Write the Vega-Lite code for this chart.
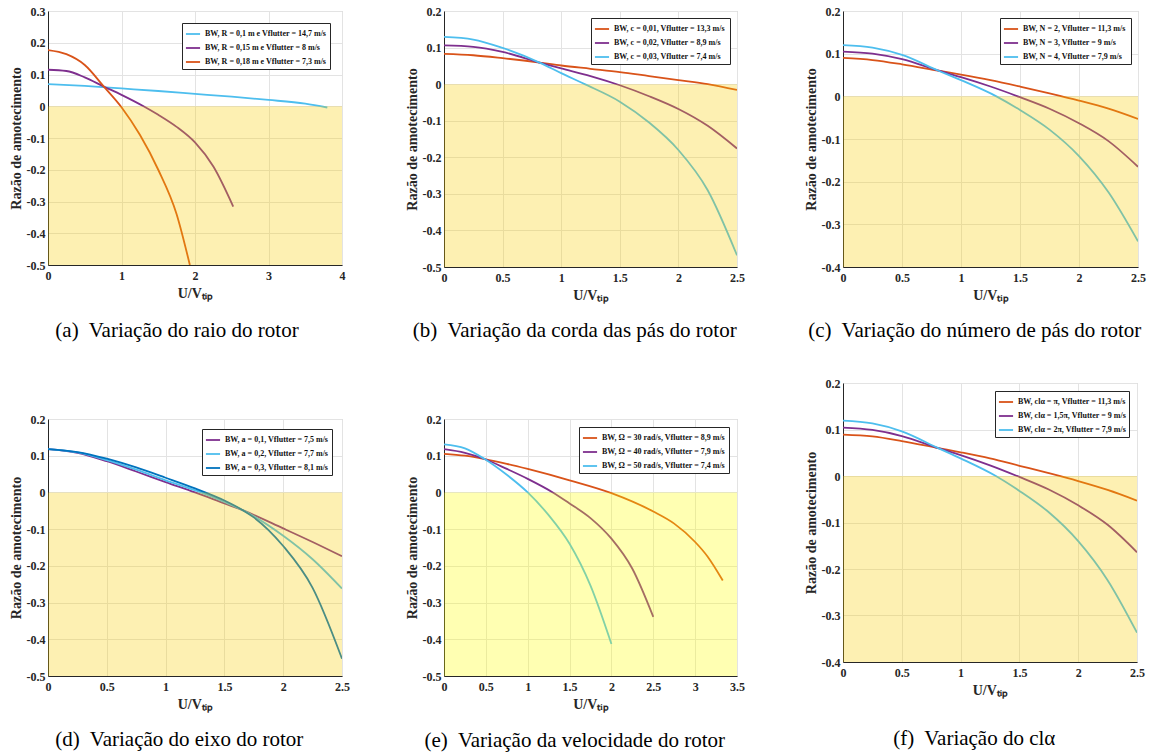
{
  "$schema": "https://vega.github.io/schema/vega-lite/v6.json",
  "background": "white",
  "padding": {"left": 8, "top": 4, "right": 4, "bottom": 4},
  "config": {
    "font": "Liberation Serif",
    "view": {"stroke": "#C8C8C8", "strokeWidth": 1},
    "axis": {"labelFont": "Liberation Serif", "labelFontWeight": "bold", "labelFontSize": 12, "labelColor": "#262626", "titleFont": "Liberation Serif", "titleFontWeight": "bold", "titleFontSize": 14, "titleColor": "#262626", "domainColor": "#262626", "gridColor": "#E3E3E3", "ticks": false, "labelPadding": 5, "titlePadding": 5, "labelFlush": false, "labelOverlap": false, "labelBound": false, "labelExpr": "'' + datum.value"},
    "axisY": {"titlePadding": 3, "labelPadding": 3},
    "legend": {"orient": "top-right", "offset": 7, "labelFont": "Liberation Serif", "labelFontWeight": "bold", "labelFontSize": 8, "labelColor": "#111111", "symbolType": "stroke", "symbolStrokeWidth": 2, "symbolSize": 200, "strokeColor": "#262626", "fillColor": "white", "padding": 3, "rowPadding": 2, "labelLimit": 0, "cornerRadius": 0},
    "title": {"font": "Liberation Serif", "fontSize": 21, "fontWeight": "normal", "color": "black", "orient": "bottom", "frame": "bounds", "offset": 18},
    "line": {"strokeWidth": 1.8, "interpolate": "monotone"}
  },
  "datasets": {
    "a": [
      {"s": "BW, R = 0,1 m e Vflutter = 14,7 m/s", "x": 0, "y": 0.070},
      {"s": "BW, R = 0,1 m e Vflutter = 14,7 m/s", "x": 0.5, "y": 0.064},
      {"s": "BW, R = 0,1 m e Vflutter = 14,7 m/s", "x": 1, "y": 0.056},
      {"s": "BW, R = 0,1 m e Vflutter = 14,7 m/s", "x": 1.5, "y": 0.048},
      {"s": "BW, R = 0,1 m e Vflutter = 14,7 m/s", "x": 2, "y": 0.039},
      {"s": "BW, R = 0,1 m e Vflutter = 14,7 m/s", "x": 2.5, "y": 0.030},
      {"s": "BW, R = 0,1 m e Vflutter = 14,7 m/s", "x": 3, "y": 0.020},
      {"s": "BW, R = 0,1 m e Vflutter = 14,7 m/s", "x": 3.5, "y": 0.008},
      {"s": "BW, R = 0,1 m e Vflutter = 14,7 m/s", "x": 3.8, "y": -0.004},
      {"s": "BW, R = 0,15 m e Vflutter = 8 m/s", "x": 0, "y": 0.115},
      {"s": "BW, R = 0,15 m e Vflutter = 8 m/s", "x": 0.25, "y": 0.111},
      {"s": "BW, R = 0,15 m e Vflutter = 8 m/s", "x": 0.5, "y": 0.091},
      {"s": "BW, R = 0,15 m e Vflutter = 8 m/s", "x": 0.76, "y": 0.062},
      {"s": "BW, R = 0,15 m e Vflutter = 8 m/s", "x": 1, "y": 0.036},
      {"s": "BW, R = 0,15 m e Vflutter = 8 m/s", "x": 1.3, "y": 0.0},
      {"s": "BW, R = 0,15 m e Vflutter = 8 m/s", "x": 1.5, "y": -0.027},
      {"s": "BW, R = 0,15 m e Vflutter = 8 m/s", "x": 1.75, "y": -0.065},
      {"s": "BW, R = 0,15 m e Vflutter = 8 m/s", "x": 2, "y": -0.114},
      {"s": "BW, R = 0,15 m e Vflutter = 8 m/s", "x": 2.25, "y": -0.190},
      {"s": "BW, R = 0,15 m e Vflutter = 8 m/s", "x": 2.52, "y": -0.316},
      {"s": "BW, R = 0,18 m e Vflutter = 7,3 m/s", "x": 0, "y": 0.177},
      {"s": "BW, R = 0,18 m e Vflutter = 7,3 m/s", "x": 0.25, "y": 0.164},
      {"s": "BW, R = 0,18 m e Vflutter = 7,3 m/s", "x": 0.5, "y": 0.130},
      {"s": "BW, R = 0,18 m e Vflutter = 7,3 m/s", "x": 0.76, "y": 0.062},
      {"s": "BW, R = 0,18 m e Vflutter = 7,3 m/s", "x": 1, "y": -0.003},
      {"s": "BW, R = 0,18 m e Vflutter = 7,3 m/s", "x": 1.25, "y": -0.090},
      {"s": "BW, R = 0,18 m e Vflutter = 7,3 m/s", "x": 1.5, "y": -0.200},
      {"s": "BW, R = 0,18 m e Vflutter = 7,3 m/s", "x": 1.75, "y": -0.340},
      {"s": "BW, R = 0,18 m e Vflutter = 7,3 m/s", "x": 1.93, "y": -0.500}
    ],
    "b": [
      {"s": "BW,  c = 0,01, Vflutter = 13,3 m/s", "x": 0, "y": 0.083},
      {"s": "BW,  c = 0,01, Vflutter = 13,3 m/s", "x": 0.25, "y": 0.079},
      {"s": "BW,  c = 0,01, Vflutter = 13,3 m/s", "x": 0.5, "y": 0.071},
      {"s": "BW,  c = 0,01, Vflutter = 13,3 m/s", "x": 0.815, "y": 0.059},
      {"s": "BW,  c = 0,01, Vflutter = 13,3 m/s", "x": 1, "y": 0.051},
      {"s": "BW,  c = 0,01, Vflutter = 13,3 m/s", "x": 1.25, "y": 0.042},
      {"s": "BW,  c = 0,01, Vflutter = 13,3 m/s", "x": 1.5, "y": 0.033},
      {"s": "BW,  c = 0,01, Vflutter = 13,3 m/s", "x": 1.75, "y": 0.022},
      {"s": "BW,  c = 0,01, Vflutter = 13,3 m/s", "x": 2, "y": 0.011},
      {"s": "BW,  c = 0,01, Vflutter = 13,3 m/s", "x": 2.25, "y": 0.0},
      {"s": "BW,  c = 0,01, Vflutter = 13,3 m/s", "x": 2.5, "y": -0.016},
      {"s": "BW,  c = 0,02, Vflutter = 8,9 m/s", "x": 0, "y": 0.106},
      {"s": "BW,  c = 0,02, Vflutter = 8,9 m/s", "x": 0.25, "y": 0.102},
      {"s": "BW,  c = 0,02, Vflutter = 8,9 m/s", "x": 0.5, "y": 0.088},
      {"s": "BW,  c = 0,02, Vflutter = 8,9 m/s", "x": 0.815, "y": 0.059},
      {"s": "BW,  c = 0,02, Vflutter = 8,9 m/s", "x": 1, "y": 0.043},
      {"s": "BW,  c = 0,02, Vflutter = 8,9 m/s", "x": 1.25, "y": 0.022},
      {"s": "BW,  c = 0,02, Vflutter = 8,9 m/s", "x": 1.5, "y": -0.003},
      {"s": "BW,  c = 0,02, Vflutter = 8,9 m/s", "x": 1.75, "y": -0.033},
      {"s": "BW,  c = 0,02, Vflutter = 8,9 m/s", "x": 2, "y": -0.068},
      {"s": "BW,  c = 0,02, Vflutter = 8,9 m/s", "x": 2.25, "y": -0.114},
      {"s": "BW,  c = 0,02, Vflutter = 8,9 m/s", "x": 2.5, "y": -0.176},
      {"s": "BW,  c = 0,03, Vflutter = 7,4 m/s", "x": 0, "y": 0.129},
      {"s": "BW,  c = 0,03, Vflutter = 7,4 m/s", "x": 0.25, "y": 0.122},
      {"s": "BW,  c = 0,03, Vflutter = 7,4 m/s", "x": 0.5, "y": 0.099},
      {"s": "BW,  c = 0,03, Vflutter = 7,4 m/s", "x": 0.815, "y": 0.059},
      {"s": "BW,  c = 0,03, Vflutter = 7,4 m/s", "x": 1, "y": 0.030},
      {"s": "BW,  c = 0,03, Vflutter = 7,4 m/s", "x": 1.2, "y": 0.0},
      {"s": "BW,  c = 0,03, Vflutter = 7,4 m/s", "x": 1.5, "y": -0.048},
      {"s": "BW,  c = 0,03, Vflutter = 7,4 m/s", "x": 1.75, "y": -0.105},
      {"s": "BW,  c = 0,03, Vflutter = 7,4 m/s", "x": 2, "y": -0.180},
      {"s": "BW,  c = 0,03, Vflutter = 7,4 m/s", "x": 2.25, "y": -0.290},
      {"s": "BW,  c = 0,03, Vflutter = 7,4 m/s", "x": 2.5, "y": -0.468}
    ],
    "c": [
      {"s": "BW,  N = 2, Vflutter = 11,3 m/s", "x": 0, "y": 0.090},
      {"s": "BW,  N = 2, Vflutter = 11,3 m/s", "x": 0.25, "y": 0.085},
      {"s": "BW,  N = 2, Vflutter = 11,3 m/s", "x": 0.5, "y": 0.075},
      {"s": "BW,  N = 2, Vflutter = 11,3 m/s", "x": 0.81, "y": 0.060},
      {"s": "BW,  N = 2, Vflutter = 11,3 m/s", "x": 1, "y": 0.051},
      {"s": "BW,  N = 2, Vflutter = 11,3 m/s", "x": 1.25, "y": 0.038},
      {"s": "BW,  N = 2, Vflutter = 11,3 m/s", "x": 1.5, "y": 0.023},
      {"s": "BW,  N = 2, Vflutter = 11,3 m/s", "x": 1.75, "y": 0.007},
      {"s": "BW,  N = 2, Vflutter = 11,3 m/s", "x": 2, "y": -0.010},
      {"s": "BW,  N = 2, Vflutter = 11,3 m/s", "x": 2.25, "y": -0.029},
      {"s": "BW,  N = 2, Vflutter = 11,3 m/s", "x": 2.5, "y": -0.053},
      {"s": "BW,  N = 3, Vflutter = 9 m/s", "x": 0, "y": 0.105},
      {"s": "BW,  N = 3, Vflutter = 9 m/s", "x": 0.25, "y": 0.100},
      {"s": "BW,  N = 3, Vflutter = 9 m/s", "x": 0.5, "y": 0.087},
      {"s": "BW,  N = 3, Vflutter = 9 m/s", "x": 0.81, "y": 0.060},
      {"s": "BW,  N = 3, Vflutter = 9 m/s", "x": 1, "y": 0.045},
      {"s": "BW,  N = 3, Vflutter = 9 m/s", "x": 1.25, "y": 0.023},
      {"s": "BW,  N = 3, Vflutter = 9 m/s", "x": 1.5, "y": -0.002},
      {"s": "BW,  N = 3, Vflutter = 9 m/s", "x": 1.75, "y": -0.029},
      {"s": "BW,  N = 3, Vflutter = 9 m/s", "x": 2, "y": -0.063},
      {"s": "BW,  N = 3, Vflutter = 9 m/s", "x": 2.25, "y": -0.105},
      {"s": "BW,  N = 3, Vflutter = 9 m/s", "x": 2.5, "y": -0.165},
      {"s": "BW,  N = 4, Vflutter = 7,9 m/s", "x": 0, "y": 0.120},
      {"s": "BW,  N = 4, Vflutter = 7,9 m/s", "x": 0.25, "y": 0.114},
      {"s": "BW,  N = 4, Vflutter = 7,9 m/s", "x": 0.5, "y": 0.097},
      {"s": "BW,  N = 4, Vflutter = 7,9 m/s", "x": 0.81, "y": 0.060},
      {"s": "BW,  N = 4, Vflutter = 7,9 m/s", "x": 1, "y": 0.038},
      {"s": "BW,  N = 4, Vflutter = 7,9 m/s", "x": 1.3, "y": 0.0},
      {"s": "BW,  N = 4, Vflutter = 7,9 m/s", "x": 1.5, "y": -0.032},
      {"s": "BW,  N = 4, Vflutter = 7,9 m/s", "x": 1.75, "y": -0.078},
      {"s": "BW,  N = 4, Vflutter = 7,9 m/s", "x": 2, "y": -0.140},
      {"s": "BW,  N = 4, Vflutter = 7,9 m/s", "x": 2.25, "y": -0.225},
      {"s": "BW,  N = 4, Vflutter = 7,9 m/s", "x": 2.5, "y": -0.340}
    ],
    "d": [
      {"s": "BW, a = 0,1, Vflutter = 7,5 m/s", "x": 0, "y": 0.118},
      {"s": "BW, a = 0,1, Vflutter = 7,5 m/s", "x": 0.25, "y": 0.108},
      {"s": "BW, a = 0,1, Vflutter = 7,5 m/s", "x": 0.5, "y": 0.085},
      {"s": "BW, a = 0,1, Vflutter = 7,5 m/s", "x": 0.75, "y": 0.057},
      {"s": "BW, a = 0,1, Vflutter = 7,5 m/s", "x": 1, "y": 0.028},
      {"s": "BW, a = 0,1, Vflutter = 7,5 m/s", "x": 1.25, "y": 0.0},
      {"s": "BW, a = 0,1, Vflutter = 7,5 m/s", "x": 1.5, "y": -0.030},
      {"s": "BW, a = 0,1, Vflutter = 7,5 m/s", "x": 1.66, "y": -0.049},
      {"s": "BW, a = 0,1, Vflutter = 7,5 m/s", "x": 2, "y": -0.098},
      {"s": "BW, a = 0,1, Vflutter = 7,5 m/s", "x": 2.25, "y": -0.135},
      {"s": "BW, a = 0,1, Vflutter = 7,5 m/s", "x": 2.5, "y": -0.174},
      {"s": "BW, a = 0,2, Vflutter = 7,7 m/s", "x": 0, "y": 0.118},
      {"s": "BW, a = 0,2, Vflutter = 7,7 m/s", "x": 0.25, "y": 0.109},
      {"s": "BW, a = 0,2, Vflutter = 7,7 m/s", "x": 0.5, "y": 0.088},
      {"s": "BW, a = 0,2, Vflutter = 7,7 m/s", "x": 0.75, "y": 0.062},
      {"s": "BW, a = 0,2, Vflutter = 7,7 m/s", "x": 1, "y": 0.033},
      {"s": "BW, a = 0,2, Vflutter = 7,7 m/s", "x": 1.3, "y": 0.0},
      {"s": "BW, a = 0,2, Vflutter = 7,7 m/s", "x": 1.5, "y": -0.026},
      {"s": "BW, a = 0,2, Vflutter = 7,7 m/s", "x": 1.66, "y": -0.049},
      {"s": "BW, a = 0,2, Vflutter = 7,7 m/s", "x": 2, "y": -0.118},
      {"s": "BW, a = 0,2, Vflutter = 7,7 m/s", "x": 2.25, "y": -0.182},
      {"s": "BW, a = 0,2, Vflutter = 7,7 m/s", "x": 2.5, "y": -0.262},
      {"s": "BW, a = 0,3, Vflutter = 8,1 m/s", "x": 0, "y": 0.118},
      {"s": "BW, a = 0,3, Vflutter = 8,1 m/s", "x": 0.25, "y": 0.110},
      {"s": "BW, a = 0,3, Vflutter = 8,1 m/s", "x": 0.5, "y": 0.092},
      {"s": "BW, a = 0,3, Vflutter = 8,1 m/s", "x": 0.75, "y": 0.068},
      {"s": "BW, a = 0,3, Vflutter = 8,1 m/s", "x": 1, "y": 0.040},
      {"s": "BW, a = 0,3, Vflutter = 8,1 m/s", "x": 1.25, "y": 0.011},
      {"s": "BW, a = 0,3, Vflutter = 8,1 m/s", "x": 1.5, "y": -0.022},
      {"s": "BW, a = 0,3, Vflutter = 8,1 m/s", "x": 1.66, "y": -0.049},
      {"s": "BW, a = 0,3, Vflutter = 8,1 m/s", "x": 1.75, "y": -0.068},
      {"s": "BW, a = 0,3, Vflutter = 8,1 m/s", "x": 2, "y": -0.146},
      {"s": "BW, a = 0,3, Vflutter = 8,1 m/s", "x": 2.25, "y": -0.260},
      {"s": "BW, a = 0,3, Vflutter = 8,1 m/s", "x": 2.5, "y": -0.453}
    ],
    "e": [
      {"s": "BW, Ω = 30 rad/s, Vflutter = 8,9 m/s", "x": 0, "y": 0.105},
      {"s": "BW, Ω = 30 rad/s, Vflutter = 8,9 m/s", "x": 0.25, "y": 0.100},
      {"s": "BW, Ω = 30 rad/s, Vflutter = 8,9 m/s", "x": 0.485, "y": 0.091},
      {"s": "BW, Ω = 30 rad/s, Vflutter = 8,9 m/s", "x": 0.75, "y": 0.078},
      {"s": "BW, Ω = 30 rad/s, Vflutter = 8,9 m/s", "x": 1, "y": 0.064},
      {"s": "BW, Ω = 30 rad/s, Vflutter = 8,9 m/s", "x": 1.5, "y": 0.033},
      {"s": "BW, Ω = 30 rad/s, Vflutter = 8,9 m/s", "x": 2, "y": -0.002},
      {"s": "BW, Ω = 30 rad/s, Vflutter = 8,9 m/s", "x": 2.5, "y": -0.052},
      {"s": "BW, Ω = 30 rad/s, Vflutter = 8,9 m/s", "x": 2.75, "y": -0.085},
      {"s": "BW, Ω = 30 rad/s, Vflutter = 8,9 m/s", "x": 3, "y": -0.135},
      {"s": "BW, Ω = 30 rad/s, Vflutter = 8,9 m/s", "x": 3.15, "y": -0.175},
      {"s": "BW, Ω = 30 rad/s, Vflutter = 8,9 m/s", "x": 3.33, "y": -0.240},
      {"s": "BW, Ω = 40 rad/s, Vflutter = 7,9 m/s", "x": 0, "y": 0.118},
      {"s": "BW, Ω = 40 rad/s, Vflutter = 7,9 m/s", "x": 0.25, "y": 0.108},
      {"s": "BW, Ω = 40 rad/s, Vflutter = 7,9 m/s", "x": 0.485, "y": 0.091},
      {"s": "BW, Ω = 40 rad/s, Vflutter = 7,9 m/s", "x": 0.75, "y": 0.064},
      {"s": "BW, Ω = 40 rad/s, Vflutter = 7,9 m/s", "x": 1, "y": 0.037},
      {"s": "BW, Ω = 40 rad/s, Vflutter = 7,9 m/s", "x": 1.3, "y": 0.0},
      {"s": "BW, Ω = 40 rad/s, Vflutter = 7,9 m/s", "x": 1.5, "y": -0.030},
      {"s": "BW, Ω = 40 rad/s, Vflutter = 7,9 m/s", "x": 1.75, "y": -0.070},
      {"s": "BW, Ω = 40 rad/s, Vflutter = 7,9 m/s", "x": 2, "y": -0.126},
      {"s": "BW, Ω = 40 rad/s, Vflutter = 7,9 m/s", "x": 2.25, "y": -0.208},
      {"s": "BW, Ω = 40 rad/s, Vflutter = 7,9 m/s", "x": 2.5, "y": -0.339},
      {"s": "BW, Ω = 50 rad/s, Vflutter = 7,4 m/s", "x": 0, "y": 0.131},
      {"s": "BW, Ω = 50 rad/s, Vflutter = 7,4 m/s", "x": 0.25, "y": 0.120},
      {"s": "BW, Ω = 50 rad/s, Vflutter = 7,4 m/s", "x": 0.485, "y": 0.091},
      {"s": "BW, Ω = 50 rad/s, Vflutter = 7,4 m/s", "x": 0.75, "y": 0.048},
      {"s": "BW, Ω = 50 rad/s, Vflutter = 7,4 m/s", "x": 1, "y": 0.0},
      {"s": "BW, Ω = 50 rad/s, Vflutter = 7,4 m/s", "x": 1.25, "y": -0.062},
      {"s": "BW, Ω = 50 rad/s, Vflutter = 7,4 m/s", "x": 1.5, "y": -0.140},
      {"s": "BW, Ω = 50 rad/s, Vflutter = 7,4 m/s", "x": 1.75, "y": -0.254},
      {"s": "BW, Ω = 50 rad/s, Vflutter = 7,4 m/s", "x": 2, "y": -0.413}
    ],
    "f": [
      {"s": "BW, clα = π, Vflutter = 11,3 m/s", "x": 0, "y": 0.089},
      {"s": "BW, clα = π, Vflutter = 11,3 m/s", "x": 0.25, "y": 0.085},
      {"s": "BW, clα = π, Vflutter = 11,3 m/s", "x": 0.5, "y": 0.075},
      {"s": "BW, clα = π, Vflutter = 11,3 m/s", "x": 0.81, "y": 0.060},
      {"s": "BW, clα = π, Vflutter = 11,3 m/s", "x": 1, "y": 0.051},
      {"s": "BW, clα = π, Vflutter = 11,3 m/s", "x": 1.25, "y": 0.038},
      {"s": "BW, clα = π, Vflutter = 11,3 m/s", "x": 1.5, "y": 0.022},
      {"s": "BW, clα = π, Vflutter = 11,3 m/s", "x": 1.75, "y": 0.006},
      {"s": "BW, clα = π, Vflutter = 11,3 m/s", "x": 2, "y": -0.011},
      {"s": "BW, clα = π, Vflutter = 11,3 m/s", "x": 2.25, "y": -0.030},
      {"s": "BW, clα = π, Vflutter = 11,3 m/s", "x": 2.5, "y": -0.053},
      {"s": "BW, clα = 1,5π, Vflutter = 9 m/s", "x": 0, "y": 0.104},
      {"s": "BW, clα = 1,5π, Vflutter = 9 m/s", "x": 0.25, "y": 0.099},
      {"s": "BW, clα = 1,5π, Vflutter = 9 m/s", "x": 0.5, "y": 0.086},
      {"s": "BW, clα = 1,5π, Vflutter = 9 m/s", "x": 0.81, "y": 0.060},
      {"s": "BW, clα = 1,5π, Vflutter = 9 m/s", "x": 1, "y": 0.045},
      {"s": "BW, clα = 1,5π, Vflutter = 9 m/s", "x": 1.25, "y": 0.023},
      {"s": "BW, clα = 1,5π, Vflutter = 9 m/s", "x": 1.5, "y": -0.002},
      {"s": "BW, clα = 1,5π, Vflutter = 9 m/s", "x": 1.75, "y": -0.029},
      {"s": "BW, clα = 1,5π, Vflutter = 9 m/s", "x": 2, "y": -0.063},
      {"s": "BW, clα = 1,5π, Vflutter = 9 m/s", "x": 2.25, "y": -0.105},
      {"s": "BW, clα = 1,5π, Vflutter = 9 m/s", "x": 2.5, "y": -0.164},
      {"s": "BW, clα = 2π, Vflutter = 7,9 m/s", "x": 0, "y": 0.119},
      {"s": "BW, clα = 2π, Vflutter = 7,9 m/s", "x": 0.25, "y": 0.113},
      {"s": "BW, clα = 2π, Vflutter = 7,9 m/s", "x": 0.5, "y": 0.096},
      {"s": "BW, clα = 2π, Vflutter = 7,9 m/s", "x": 0.81, "y": 0.060},
      {"s": "BW, clα = 2π, Vflutter = 7,9 m/s", "x": 1, "y": 0.038},
      {"s": "BW, clα = 2π, Vflutter = 7,9 m/s", "x": 1.3, "y": 0.0},
      {"s": "BW, clα = 2π, Vflutter = 7,9 m/s", "x": 1.5, "y": -0.032},
      {"s": "BW, clα = 2π, Vflutter = 7,9 m/s", "x": 1.75, "y": -0.078},
      {"s": "BW, clα = 2π, Vflutter = 7,9 m/s", "x": 2, "y": -0.140},
      {"s": "BW, clα = 2π, Vflutter = 7,9 m/s", "x": 2.25, "y": -0.224},
      {"s": "BW, clα = 2π, Vflutter = 7,9 m/s", "x": 2.5, "y": -0.337}
    ]
  },
  "spacing": 54,
  "resolve": {"scale": {"color": "independent"}, "legend": {"color": "independent"}},
  "hconcat": [
    {
      "spacing": 70,
      "resolve": {"scale": {"color": "independent"}, "legend": {"color": "independent"}},
      "vconcat": [
        {
          "width": 294, "height": 254,
          "title": {"text": "(a)\u00a0 Variação do raio do rotor", "font": "Liberation Serif", "offset": 20},
          "layer": [
            {
              "data": {"name": "a"},
              "mark": {"type": "line", "clip": true},
              "encoding": {
                "x": {"field": "x", "type": "quantitative", "title": "U/Vₜᵢₚ", "scale": {"domain": [0, 4], "nice": false}, "axis": {"values": [0, 1, 2, 3, 4], "labelOverlap": false}},
                "y": {"field": "y", "type": "quantitative", "title": "Razão de amotecimento", "scale": {"domain": [-0.5, 0.3], "nice": false}, "axis": {"values": [-0.5, -0.4, -0.3, -0.2, -0.1, 0, 0.1, 0.2, 0.3], "labelOverlap": false}},
                "color": {"field": "s", "type": "nominal", "scale": {"domain": ["BW, R = 0,1 m e Vflutter = 14,7 m/s", "BW, R = 0,15 m e Vflutter = 8 m/s", "BW, R = 0,18 m e Vflutter = 7,3 m/s"], "range": ["#4DBEEE", "#7E2F8E", "#D95319"]}, "legend": {"title": null, "offset": 12}}
              }
            },
            {
              "data": {"values": [{}]},
              "mark": {"type": "rect", "color": "#F8CD00", "opacity": 0.3},
              "encoding": {"x": {"datum": 0, "type": "quantitative", "title": "U/Vₜᵢₚ", "axis": {"values": [0, 1, 2, 3, 4], "labelOverlap": false}}, "x2": {"datum": 4}, "y": {"datum": 0, "type": "quantitative", "title": "Razão de amotecimento", "axis": {"values": [-0.5, -0.4, -0.3, -0.2, -0.1, 0, 0.1, 0.2, 0.3], "labelOverlap": false}}, "y2": {"datum": -0.5}}
            }
          ]
        },
        {
          "width": 294, "height": 257,
          "title": {"text": "(d)\u00a0 Variação do eixo do rotor", "font": "Liberation Serif", "offset": 18},
          "layer": [
            {
              "data": {"name": "d"},
              "mark": {"type": "line", "clip": true},
              "encoding": {
                "x": {"field": "x", "type": "quantitative", "title": "U/Vₜᵢₚ", "scale": {"domain": [0, 2.5], "nice": false}, "axis": {"values": [0, 0.5, 1, 1.5, 2, 2.5], "labelOverlap": false}},
                "y": {"field": "y", "type": "quantitative", "title": "Razão de amotecimento", "scale": {"domain": [-0.5, 0.2], "nice": false}, "axis": {"values": [-0.5, -0.4, -0.3, -0.2, -0.1, 0, 0.1, 0.2], "labelOverlap": false}},
                "color": {"field": "s", "type": "nominal", "scale": {"domain": ["BW, a = 0,1, Vflutter = 7,5 m/s", "BW, a = 0,2, Vflutter = 7,7 m/s", "BW, a = 0,3, Vflutter = 8,1 m/s"], "range": ["#7E2F8E", "#4DBEEE", "#0072BD"]}, "legend": {"title": null, "offset": 10}}
              }
            },
            {
              "data": {"values": [{}]},
              "mark": {"type": "rect", "color": "#F8CD00", "opacity": 0.3},
              "encoding": {"x": {"datum": 0, "type": "quantitative", "title": "U/Vₜᵢₚ", "axis": {"values": [0, 0.5, 1, 1.5, 2, 2.5], "labelOverlap": false}}, "x2": {"datum": 2.5}, "y": {"datum": 0, "type": "quantitative", "title": "Razão de amotecimento", "axis": {"values": [-0.5, -0.4, -0.3, -0.2, -0.1, 0, 0.1, 0.2], "labelOverlap": false}}, "y2": {"datum": -0.5}}
            }
          ]
        }
      ]
    },
    {
      "spacing": 58,
      "resolve": {"scale": {"color": "independent"}, "legend": {"color": "independent"}},
      "hconcat": [
        {
          "spacing": 70,
          "resolve": {"scale": {"color": "independent"}, "legend": {"color": "independent"}},
          "vconcat": [
            {
              "width": 293, "height": 256,
              "title": {"text": "(b)\u00a0 Variação da corda das pás do rotor", "font": "Liberation Serif", "offset": 18},
              "layer": [
                {
                  "data": {"name": "b"},
                  "mark": {"type": "line", "clip": true},
                  "encoding": {
                    "x": {"field": "x", "type": "quantitative", "title": "U/Vₜᵢₚ", "scale": {"domain": [0, 2.5], "nice": false}, "axis": {"values": [0, 0.5, 1, 1.5, 2, 2.5], "labelOverlap": false}},
                    "y": {"field": "y", "type": "quantitative", "title": "Razão de amotecimento", "scale": {"domain": [-0.5, 0.2], "nice": false}, "axis": {"values": [-0.5, -0.4, -0.3, -0.2, -0.1, 0, 0.1, 0.2], "labelOverlap": false}},
                    "color": {"field": "s", "type": "nominal", "scale": {"domain": ["BW,  c = 0,01, Vflutter = 13,3 m/s", "BW,  c = 0,02, Vflutter = 8,9 m/s", "BW,  c = 0,03, Vflutter = 7,4 m/s"], "range": ["#D95319", "#7E2F8E", "#4DBEEE"]}, "legend": {"title": null, "offset": 7}}
                  }
                },
                {
                  "data": {"values": [{}]},
                  "mark": {"type": "rect", "color": "#F8CD00", "opacity": 0.3},
                  "encoding": {"x": {"datum": 0, "type": "quantitative", "title": "U/Vₜᵢₚ", "axis": {"values": [0, 0.5, 1, 1.5, 2, 2.5], "labelOverlap": false}}, "x2": {"datum": 2.5}, "y": {"datum": 0, "type": "quantitative", "title": "Razão de amotecimento", "axis": {"values": [-0.5, -0.4, -0.3, -0.2, -0.1, 0, 0.1, 0.2], "labelOverlap": false}}, "y2": {"datum": -0.5}}
                }
              ]
            },
            {
              "width": 293, "height": 257,
              "title": {"text": "(e)\u00a0 Variação da velocidade do rotor", "font": "Liberation Serif", "offset": 19},
              "layer": [
                {
                  "data": {"name": "e"},
                  "mark": {"type": "line", "clip": true},
                  "encoding": {
                    "x": {"field": "x", "type": "quantitative", "title": "U/Vₜᵢₚ", "scale": {"domain": [0, 3.5], "nice": false}, "axis": {"values": [0, 0.5, 1, 1.5, 2, 2.5, 3, 3.5], "labelOverlap": false}},
                    "y": {"field": "y", "type": "quantitative", "title": "Razão de amotecimento", "scale": {"domain": [-0.5, 0.2], "nice": false}, "axis": {"values": [-0.5, -0.4, -0.3, -0.2, -0.1, 0, 0.1, 0.2], "labelOverlap": false}},
                    "color": {"field": "s", "type": "nominal", "scale": {"domain": ["BW, Ω = 30 rad/s, Vflutter = 8,9 m/s", "BW, Ω = 40 rad/s, Vflutter = 7,9 m/s", "BW, Ω = 50 rad/s, Vflutter = 7,4 m/s"], "range": ["#D95319", "#7E2F8E", "#4DBEEE"]}, "legend": {"title": null, "offset": 8}}
                  }
                },
                {
                  "data": {"values": [{}]},
                  "mark": {"type": "rect", "color": "#FFFF00", "opacity": 0.3},
                  "encoding": {"x": {"datum": 0, "type": "quantitative", "title": "U/Vₜᵢₚ", "axis": {"values": [0, 0.5, 1, 1.5, 2, 2.5, 3, 3.5], "labelOverlap": false}}, "x2": {"datum": 3.5}, "y": {"datum": 0, "type": "quantitative", "title": "Razão de amotecimento", "axis": {"values": [-0.5, -0.4, -0.3, -0.2, -0.1, 0, 0.1, 0.2], "labelOverlap": false}}, "y2": {"datum": -0.5}}
                }
              ]
            }
          ]
        },
        {
          "spacing": 34,
          "resolve": {"scale": {"color": "independent"}, "legend": {"color": "independent"}},
          "vconcat": [
            {
              "width": 295, "height": 256,
              "title": {"text": "(c)\u00a0 Variação do número de pás do rotor", "font": "Liberation Serif", "offset": 18},
              "layer": [
                {
                  "data": {"name": "c"},
                  "mark": {"type": "line", "clip": true},
                  "encoding": {
                    "x": {"field": "x", "type": "quantitative", "title": "U/Vₜᵢₚ", "scale": {"domain": [0, 2.5], "nice": false}, "axis": {"values": [0, 0.5, 1, 1.5, 2, 2.5], "labelOverlap": false}},
                    "y": {"field": "y", "type": "quantitative", "title": "Razão de amotecimento", "scale": {"domain": [-0.4, 0.2], "nice": false}, "axis": {"values": [-0.4, -0.3, -0.2, -0.1, 0, 0.1, 0.2], "labelOverlap": false}},
                    "color": {"field": "s", "type": "nominal", "scale": {"domain": ["BW,  N = 2, Vflutter = 11,3 m/s", "BW,  N = 3, Vflutter = 9 m/s", "BW,  N = 4, Vflutter = 7,9 m/s"], "range": ["#D95319", "#7E2F8E", "#4DBEEE"]}, "legend": {"title": null, "offset": 7}}
                  }
                },
                {
                  "data": {"values": [{}]},
                  "mark": {"type": "rect", "color": "#F8CD00", "opacity": 0.3},
                  "encoding": {"x": {"datum": 0, "type": "quantitative", "title": "U/Vₜᵢₚ", "axis": {"values": [0, 0.5, 1, 1.5, 2, 2.5], "labelOverlap": false}}, "x2": {"datum": 2.5}, "y": {"datum": 0, "type": "quantitative", "title": "Razão de amotecimento", "axis": {"values": [-0.4, -0.3, -0.2, -0.1, 0, 0.1, 0.2], "labelOverlap": false}}, "y2": {"datum": -0.4}}
                }
              ]
            },
            {
              "width": 294, "height": 279,
              "title": {"text": "(f)\u00a0 Variação do clα", "font": "Liberation Serif", "offset": 31},
              "layer": [
                {
                  "data": {"name": "f"},
                  "mark": {"type": "line", "clip": true},
                  "encoding": {
                    "x": {"field": "x", "type": "quantitative", "title": "U/Vₜᵢₚ", "scale": {"domain": [0, 2.5], "nice": false}, "axis": {"values": [0, 0.5, 1, 1.5, 2, 2.5], "labelOverlap": false}},
                    "y": {"field": "y", "type": "quantitative", "title": "Razão de amotecimento", "scale": {"domain": [-0.4, 0.2], "nice": false}, "axis": {"values": [-0.4, -0.3, -0.2, -0.1, 0, 0.1, 0.2], "labelOverlap": false}},
                    "color": {"field": "s", "type": "nominal", "scale": {"domain": ["BW, clα = π, Vflutter = 11,3 m/s", "BW, clα = 1,5π, Vflutter = 9 m/s", "BW, clα = 2π, Vflutter = 7,9 m/s"], "range": ["#D95319", "#7E2F8E", "#4DBEEE"]}, "legend": {"title": null, "offset": 8}}
                  }
                },
                {
                  "data": {"values": [{}]},
                  "mark": {"type": "rect", "color": "#F8CD00", "opacity": 0.3},
                  "encoding": {"x": {"datum": 0, "type": "quantitative", "title": "U/Vₜᵢₚ", "axis": {"values": [0, 0.5, 1, 1.5, 2, 2.5], "labelOverlap": false}}, "x2": {"datum": 2.5}, "y": {"datum": 0, "type": "quantitative", "title": "Razão de amotecimento", "axis": {"values": [-0.4, -0.3, -0.2, -0.1, 0, 0.1, 0.2], "labelOverlap": false}}, "y2": {"datum": -0.4}}
                }
              ]
            }
          ]
        }
      ]
    }
  ]
}
